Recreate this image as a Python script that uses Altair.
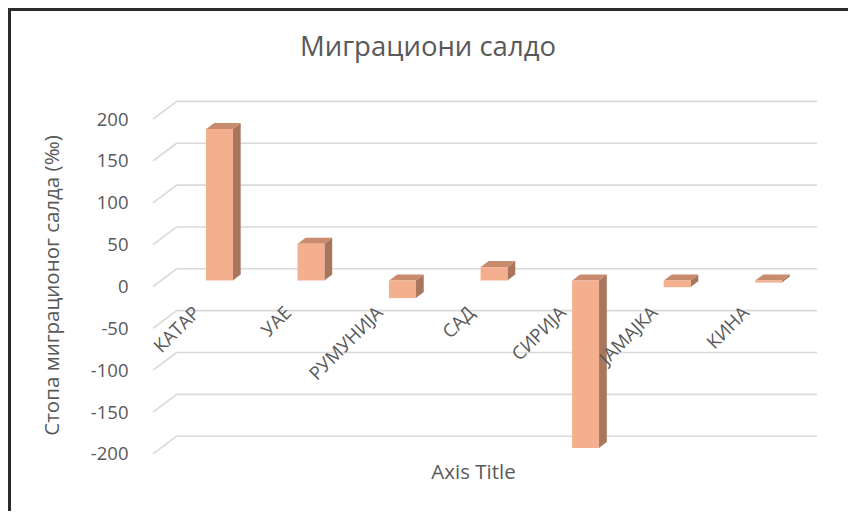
import altair as alt
import pandas as pd

# ---------------- data ----------------
categories = ["КАТАР", "УАЕ", "РУМУНИЈА", "САД", "СИРИЈА", "ЈАМАЈКА", "КИНА"]
values = [181, 44, -21, 16, -200, -8, -2.5]
tick_values = [-200, -150, -100, -50, 0, 50, 100, 150, 200]

chart_title = "Миграциони салдо"
y_title = "Стопа миграционог салда (‰)"
x_title = "Axis Title"

# ---------------- layout constants (style) ----------------
W, H = 676, 380
PX_X = 92.9          # px per category step
PX_Y = 0.837         # px per data unit
XDOM = [-0.7266, 6.550]
YDOM = [-226.4, 227.6]
HALF = 13.5 / PX_X   # half bar width
DX = 8 / PX_X        # depth offset x
DY = 6 / PX_Y        # depth offset y
BACK = 11.7 / PX_Y   # back wall shift
FRONT = -6 / PX_Y    # front of side wall shift
WALL_X0 = XDOM[0]
WALL_X1 = (172 - 215.5) / PX_X
GRID_X1 = (822 - 215.5) / PX_X
LAB_DX = -23 / PX_X
LAB_Y = -35

FRONT_C = "#F4AF8F"
TOP_C = "#C98B6D"
SIDE_C = "#A8765C"
TEXT_C = "#595959"
GRID_C = "#D9D9D9"
FONT = "Open Sans"

xs = alt.Scale(domain=XDOM, nice=False, zero=False)
ys = alt.Scale(domain=YDOM, nice=False, zero=False)

x_axis = alt.Axis(
    labels=False, ticks=False, domain=False, grid=False, title=x_title,
    titleFont=FONT, titleFontSize=20.5, titleFontWeight="normal", titleColor=TEXT_C,
    titleX=325, titleY=2, titleAlign="center", titleBaseline="middle")
y_axis = alt.Axis(
    values=tick_values, ticks=False, domain=False, grid=False,
    labelExpr="'' + datum.value",
    labelPadding=20, labelOffset=6, labelFont=FONT, labelFontSize=18.5, labelColor=TEXT_C,
    title=y_title, titleFont=FONT, titleFontSize=20.5, titleFontWeight="normal",
    titleColor=TEXT_C, titleX=-96, titleY=195, titleAlign="center",
    titleBaseline="middle", titleAngle=270)

idx = list(range(len(categories)))
bars = pd.DataFrame({"cat": categories, "i": idx, "v": values, "z": [0] * len(values)})

side_rows, top_rows = [], []
for i, v in zip(idx, values):
    side_rows.append({"i": i, "x": i + HALF, "y": v, "y2": 0})
    side_rows.append({"i": i, "x": i + HALF + DX, "y": v + DY, "y2": DY})
    t = max(v, 0)
    top_rows.append({"i": i, "y": t, "x": i - HALF, "x2": i + HALF})
    top_rows.append({"i": i, "y": t + DY, "x": i - HALF + DX, "x2": i + HALF + DX})
side = pd.DataFrame(side_rows)
top = pd.DataFrame(top_rows)

grid = pd.DataFrame({
    "v": tick_values,
    "yb": [t + BACK for t in tick_values],
    "yf": [t + FRONT for t in tick_values],
    "x0": [WALL_X0] * len(tick_values),
    "x1": [WALL_X1] * len(tick_values),
    "x2": [GRID_X1] * len(tick_values),
})

labels = pd.DataFrame({"cat": categories, "lx": [i + LAB_DX for i in idx], "ly": [LAB_Y] * len(idx)})

back_lines = alt.Chart(grid).mark_rule(color=GRID_C, strokeWidth=1.6).encode(
    x=alt.X("x1:Q", scale=xs, axis=x_axis), x2="x2:Q",
    y=alt.Y("yb:Q", scale=ys, axis=y_axis),
)
wall_lines = alt.Chart(grid).mark_rule(color=GRID_C, strokeWidth=1.6).encode(
    x=alt.X("x0:Q", scale=xs, axis=x_axis), x2="x1:Q",
    y=alt.Y("yf:Q", scale=ys, axis=y_axis), y2="yb:Q",
)

side_faces = alt.Chart(side).mark_area(color=SIDE_C, opacity=1).encode(
    x=alt.X("x:Q", scale=xs, axis=x_axis),
    y=alt.Y("y:Q", scale=ys, axis=y_axis), y2="y2:Q",
    detail="i:N",
)
top_faces = alt.Chart(top).mark_area(color=TOP_C, orient="horizontal", opacity=1).encode(
    y=alt.Y("y:Q", scale=ys, axis=y_axis),
    x=alt.X("x:Q", scale=xs, axis=x_axis), x2="x2:Q",
    detail="i:N",
)
front_faces = alt.Chart(bars).mark_bar(color=FRONT_C, size=27).encode(
    x=alt.X("i:Q", scale=xs, axis=x_axis),
    y=alt.Y("v:Q", scale=ys, axis=y_axis),
    y2="z:Q",
)

cat_labels = alt.Chart(labels).mark_text(
    angle=315, align="right", baseline="middle", font=FONT, fontSize=18.5, color=TEXT_C
).encode(
    x=alt.X("lx:Q", scale=xs, axis=x_axis),
    y=alt.Y("ly:Q", scale=ys, axis=y_axis),
    text="cat:N",
)

title_mark = alt.Chart(pd.DataFrame({"t": [chart_title]})).mark_text(
    font=FONT, fontSize=27.5, color=TEXT_C, align="center", baseline="middle"
).encode(x=alt.value(428 - 148), y=alt.value(48 - 90), text="t:N")

frame_top = alt.Chart(bars).mark_rule(color="#2b2b2b", strokeWidth=3).encode(
    x=alt.value(-140), x2=alt.value(W + 24), y=alt.value(-81)
)
frame_left = alt.Chart(bars).mark_rule(color="#2b2b2b", strokeWidth=3).encode(
    x=alt.value(-139), y=alt.value(-82), y2=alt.value(H + 41)
)

chart = alt.layer(
    back_lines, wall_lines, side_faces, top_faces, front_faces, cat_labels,
    title_mark, frame_top, frame_left
).properties(
    width=W, height=H,
    autosize=alt.AutoSizeParams(type="none"),
    padding={"left": 140, "top": 82, "right": 24, "bottom": 41},
    background="white",
).configure_view(stroke=None)

chart.save("out.html", embed_options={"renderer": "svg", "actions": False})
